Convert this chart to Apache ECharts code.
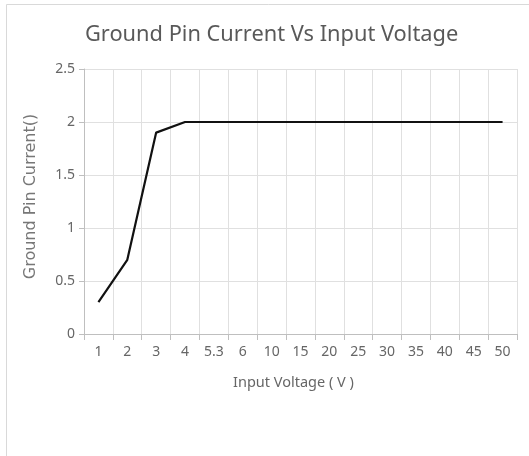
<!DOCTYPE html>
<html>
<head>
<meta charset="utf-8">
<script src="https://cdn.jsdelivr.net/npm/echarts@6/dist/echarts.min.js"></script>
<style>
html,body{margin:0;padding:0;background:#fff;}
#main{width:529px;height:456px;}
</style>
</head>
<body>
<div id="main"></div>
<script>
var categories = ['1','2','3','4','5.3','6','10','15','20','25','30','35','40','45','50'];
var currentValues = [0.3, 0.7, 1.9, 2, 2, 2, 2, 2, 2, 2, 2, 2, 2, 2, 2];
var yTicks = [0, 0.5, 1, 1.5, 2, 2.5];

var chart = echarts.init(document.getElementById('main'), null, {renderer: 'canvas'});
chart.setOption({
  animation: false,
  backgroundColor: '#fff',
  graphic: [{
    type: 'rect',
    shape: {x: 6.5, y: 4.5, width: 700, height: 700},
    style: {fill: 'none', stroke: '#d9d9d9', lineWidth: 1},
    silent: true
  }],
  title: {
    text: 'Ground Pin Current Vs Input Voltage',
    left: 80,
    top: 19,
    textStyle: {fontFamily: 'Noto Sans', fontSize: 21.8, fontWeight: 'normal', color: '#595959'}
  },
  grid: {left: 84, right: 12, top: 69, bottom: 122},
  xAxis: {
    type: 'category',
    data: categories,
    boundaryGap: true,
    name: 'Input Voltage ( V )',
    nameLocation: 'middle',
    nameGap: 41,
    nameTextStyle: {fontFamily: 'Noto Sans', fontSize: 14.5, color: '#666', padding: [0, 14, 0, 0]},
    axisLine: {lineStyle: {color: '#bfbfbf'}},
    axisTick: {show: true, length: 6, alignWithLabel: false, lineStyle: {color: '#bfbfbf'}},
    axisLabel: {fontFamily: 'Noto Sans', fontSize: 14, color: '#666', margin: 11, interval: 0},
    splitLine: {show: true, lineStyle: {color: '#e0e0e0'}}
  },
  yAxis: {
    type: 'value',
    min: yTicks[0],
    max: yTicks[yTicks.length - 1],
    interval: yTicks[1] - yTicks[0],
    name: 'Ground Pin Current()',
    nameLocation: 'middle',
    nameGap: 45,
    nameTextStyle: {fontFamily: 'DejaVu Sans', fontSize: 16, color: '#777', padding: [0, 0, 0, 10]},
    axisLine: {show: true, lineStyle: {color: '#bfbfbf'}},
    axisTick: {show: true, length: 5, lineStyle: {color: '#bfbfbf'}},
    axisLabel: {fontFamily: 'Noto Sans', fontSize: 14, color: '#666', margin: 9},
    splitLine: {show: true, lineStyle: {color: '#e0e0e0'}}
  },
  series: [{
    type: 'line',
    data: currentValues,
    showSymbol: false,
    symbol: 'none',
    lineStyle: {color: '#111', width: 2.2},
    itemStyle: {color: '#111'}
  }]
});
</script>
</body>
</html>
